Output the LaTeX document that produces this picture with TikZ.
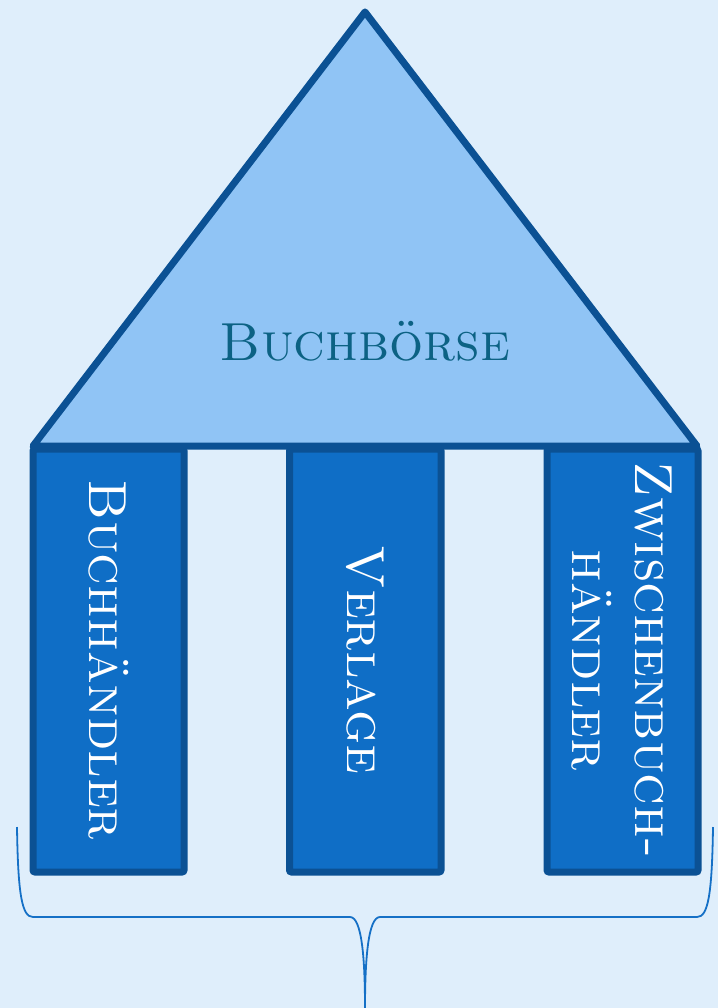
\documentclass[tikz,border=0pt]{standalone}
\definecolor{bgc}{HTML}{DFEEFB}
\definecolor{roofc}{HTML}{90C4F5}
\definecolor{edgec}{HTML}{0B5194}
\definecolor{pillarc}{HTML}{0F6EC6}
\definecolor{titlec}{HTML}{0C6284}
\definecolor{bracec}{HTML}{1570C6}
\tikzset{
  roof/.style={draw=edgec, fill=roofc, line width=7pt, line join=round},
  pillar/.style={draw=edgec, fill=pillarc, line width=7pt, rounded corners=2pt},
  pillartext/.style={text=white, rotate=-90, align=center, font=\fontsize{53.6}{63}\selectfont\scshape},
  rooftext/.style={text=titlec, font=\fontsize{53.6}{63}\selectfont\scshape},
  bracepath/.style={draw=bracec, line width=1.8pt}
}
\begin{document}
\begin{tikzpicture}[x=1pt,y=-1pt]
\fill[bgc] (0,0) rectangle (718,1008);
\useasboundingbox (0,0) rectangle (718,1008);
% roof
\coordinate (apex) at (365,12);
\coordinate (bl) at (33,446);
\coordinate (br) at (697,446);
\draw[roof] (apex) -- (br) -- (bl) -- cycle;
\node[rooftext] (title) at (365,341) {Buchbörse};
% pillars
\draw[pillar] (33,449) rectangle (184,872);
\draw[pillar] (289.5,449) rectangle (441,872);
\draw[pillar] (547,449) rectangle (698,872);
\node[pillartext] (p1) at (108.5,660) {Buchhändler};
\node[pillartext] (p2) at (365,660) {Verlage};
\node[pillartext] (p3) at (622,660) {Zwischenbuch-\\händler};
% brace
\coordinate (bL) at (17,827);
\coordinate (bR) at (713,827);
\coordinate (tip) at (365,1008);
\draw[bracepath] (bL) .. controls (18,895) and (22,917) .. (33,917)
  -- (350,917) .. controls (362,917) and (365,960) .. (tip)
  .. controls (365,960) and (368,917) .. (380,917)
  -- (697,917) .. controls (708,917) and (712,895) .. (bR);
\end{tikzpicture}
\end{document}
